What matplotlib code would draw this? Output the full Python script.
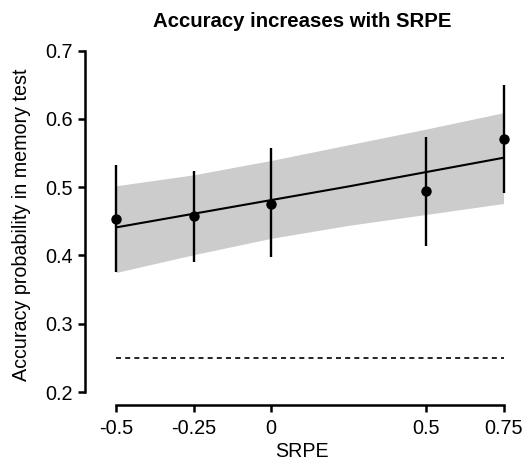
import numpy as np
import matplotlib
matplotlib.use('Agg')
import matplotlib.pyplot as plt

plt.rcParams['font.family'] = ['Liberation Sans', 'DejaVu Sans']

# observed accuracy per SRPE level
srpe = [-0.5, -0.25, 0, 0.5, 0.75]
acc = [0.454, 0.458, 0.476, 0.494, 0.571]
acc_lo = [0.375, 0.391, 0.397, 0.414, 0.491]
acc_hi = [0.533, 0.523, 0.557, 0.574, 0.650]

# model fit and confidence band
fit_x = [-0.5, -0.25, 0, 0.25, 0.5, 0.75]
fit_y = [0.441, 0.461, 0.481, 0.501, 0.522, 0.543]
band_lo = [0.375, 0.401, 0.425, 0.444, 0.460, 0.476]
band_hi = [0.502, 0.518, 0.539, 0.562, 0.585, 0.609]

chance = 0.25
xticks = [-0.5, -0.25, 0, 0.5, 0.75]
xticklabels = ['-0.5', '-0.25', '0', '0.5', '0.75']
yticks = [0.2, 0.3, 0.4, 0.5, 0.6, 0.7]

fig = plt.figure(figsize=(5.29, 4.62), dpi=100)
ax = fig.add_axes([0.1607, 0.1234, 0.8204, 0.782])

ax.fill_between(fit_x, band_lo, band_hi, color='#cccccc', lw=0)
ax.plot(fit_x, fit_y, color='black', lw=1.5)
ax.plot([srpe[0], srpe[-1]], [chance, chance], color='black', lw=1.2, ls=(0, (3, 2.5)))

err = [np.array(acc) - np.array(acc_lo), np.array(acc_hi) - np.array(acc)]
ax.errorbar(srpe, acc, yerr=err, fmt='o', color='black', ms=6.5, elinewidth=1.7, capsize=0)

ax.set_xlim(-0.6, 0.8)
ax.set_ylim(0.181, 0.71)
ax.spines['top'].set_visible(False)
ax.spines['right'].set_visible(False)
ax.spines['left'].set_bounds(0.2, 0.7)
ax.spines['bottom'].set_bounds(-0.5, 0.75)
for s in ['left', 'bottom']:
    ax.spines[s].set_linewidth(1.8)

ax.set_xticks(xticks)
ax.set_xticklabels(xticklabels)
ax.set_yticks(yticks)
ax.set_yticklabels(['0.2', '0.3', '0.4', '0.5', '0.6', '0.7'])
ax.tick_params(axis='both', labelsize=14.3, width=1.8, length=5, pad=4)
ax.tick_params(axis='x', pad=5)

ax.set_xlabel('SRPE', fontsize=14.1, labelpad=3)
ax.set_ylabel('Accuracy probability in memory test', fontsize=14.2, labelpad=10)
ax.set_title('Accuracy increases with SRPE', fontsize=14.7, fontweight='bold', pad=12)

fig.savefig('out.png', dpi=100)
